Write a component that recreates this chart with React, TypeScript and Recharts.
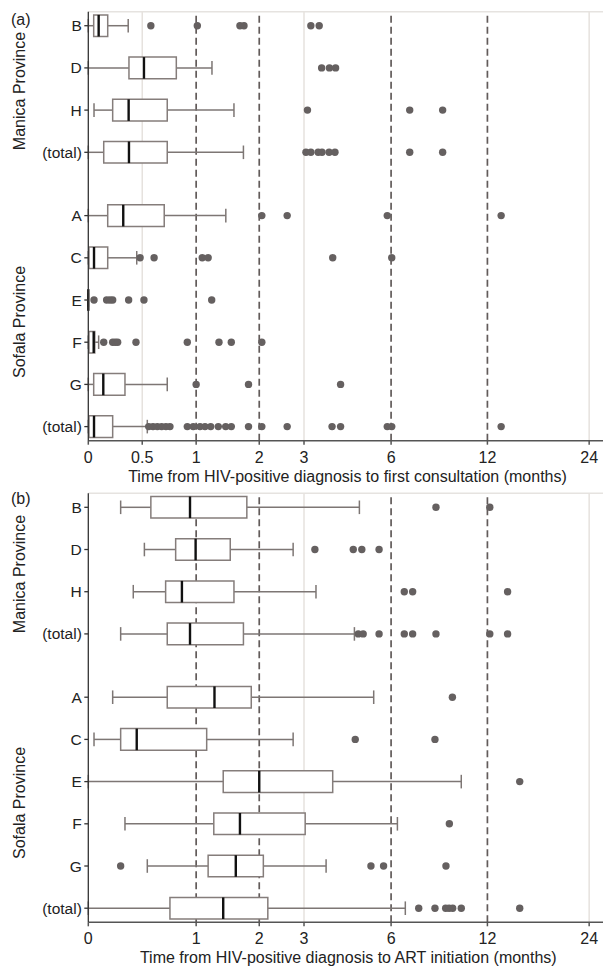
import React from 'react';
import { ComposedChart, XAxis, YAxis, Scatter, ReferenceArea, ReferenceLine } from 'recharts';

// ---------- data ----------
const rowLabels = ['B', 'D', 'H', '(total)', 'A', 'C', 'E', 'F', 'G', '(total)'];
const rowProvince = [0, 0, 0, 0, 1, 1, 1, 1, 1, 1];
const provinceLabels = ['Manica Province', 'Sofala Province'];

const ticksA = [0, 0.5, 1, 2, 3, 6, 12, 24];
const ticksB = [0, 1, 2, 3, 6, 12, 24];
const dashedMonths = [1, 2, 6, 12];
const lightMonthsA = [0.5, 3, 24];
const lightMonthsB = [3, 24];

const titleA = 'Time from HIV-positive diagnosis to first consultation (months)';
const titleB = 'Time from HIV-positive diagnosis to ART initiation (months)';

// panel (a): diagnosis -> first consultation
const consultLow = [0, 0, 0.053, 0, 0, 0, 0, 0, 0, 0];
const consultQ1 = [0.05, 0.377, 0.226, 0.143, 0.18, 0.006, 0, 0.006, 0.05, 0.006];
const consultMedian = [0.096, 0.516, 0.374, 0.377, 0.324, 0.053, 0, 0.05, 0.139, 0.053];
const consultQ3 = [0.18, 0.816, 0.732, 0.732, 0.704, 0.18, 0, 0.06, 0.34, 0.226];
const consultHigh = [0.37, 1.214, 1.55, 1.71, 1.42, 0.449, 0, 0.096, 0.732, 0.547];
const consultOutliers = [
  [0.58, 1.015, 1.65, 1.72, 3.18, 3.41],
  [3.48, 3.71, 3.9],
  [3.09, 6.89, 8.75],
  [3.05, 3.18, 3.38, 3.49, 3.7, 3.88, 6.89, 8.75],
  [2.05, 2.59, 5.83, 13.2],
  [0.48, 0.61, 1.08, 1.16, 3.81, 6.03],
  [0.053, 0.17, 0.2, 0.226, 0.374, 0.516, 1.21],
  [0.143, 0.226, 0.25, 0.272, 0.442, 0.918, 1.316, 1.507, 2.05],
  [1.0, 1.8, 4.06],
  [0.56, 0.6, 0.64, 0.68, 0.72, 0.757, 0.918, 0.973, 1.05, 1.117, 1.196, 1.306, 1.418, 1.507, 1.8, 2.05, 2.59, 3.79, 4.06, 5.83, 6.03, 13.2],
];

// panel (b): diagnosis -> ART initiation
const artLow = [0.3, 0.52, 0.417, 0.3, 0.226, 0.053, 0, 0.34, 0.547, 0];
const artQ1 = [0.58, 0.81, 0.717, 0.732, 0.732, 0.3, 1.38, 1.24, 1.16, 0.757];
const artMedian = [0.943, 0.995, 0.868, 0.943, 1.25, 0.449, 2.0, 1.65, 1.58, 1.38];
const artQ3 = [1.77, 1.49, 1.55, 1.71, 1.85, 1.14, 3.81, 3.03, 2.08, 2.17];
const artHigh = [4.71, 2.73, 3.32, 4.53, 5.26, 2.73, 9.99, 6.29, 3.61, 6.67];
const artOutliers = [
  [8.34, 12.2],
  [3.29, 4.49, 4.8, 5.48],
  [6.62, 7.04, 13.8],
  [4.67, 4.85, 5.48, 6.62, 7.04, 8.34, 12.2, 13.8],
  [9.38],
  [4.56, 8.28],
  [15.0],
  [9.18],
  [0.3, 5.15, 5.67, 8.96],
  [7.36, 8.28, 8.94, 9.16, 9.4, 9.99, 15.0],
];

// ---------- scale transform (linear to 1 month, log(1+x) beyond) ----------
const f = (m: number) => (m <= 1 ? m * Math.LN2 : Math.log(1 + m));
const fmtMonth = (m: number) => String(m);

const FONT = '"Liberation Sans", Arial, Helvetica, sans-serif';
const T_MAX = 3.3078;
const Y_MIN = -0.332;
const Y_MAX = 9.834;
const BOX_H = 0.256;
const CAP_H = 0.161;

const rowPos = rowLabels.map((_, i) => i + 0.5 * rowProvince[i]);

type PanelProps = {
  low: number[];
  q1: number[];
  med: number[];
  q3: number[];
  high: number[];
  outliers: number[][];
  ticks: number[];
  light: number[];
  height: number;
  top: number;
};

function Panel({ low, q1, med, q3, high, outliers, ticks, light, height, top }: PanelProps) {
  const tickT = ticks.map(f);
  const pts: { x: number; y: number }[] = [];
  outliers.forEach((arr, i) => arr.forEach((v) => pts.push({ x: f(v), y: rowPos[i] })));
  const xFmt = (v: number) => {
    const k = tickT.findIndex((t) => Math.abs(t - v) < 1e-6);
    return k >= 0 ? fmtMonth(ticks[k]) : '';
  };
  const yFmt = (v: number) => {
    const k = rowPos.findIndex((p) => Math.abs(p - v) < 1e-6);
    return k >= 0 ? rowLabels[k] : '';
  };
  const boxStroke = '#857d7b';
  const whisk = '#7d7674';
  return (
    <ComposedChart
      width={603}
      height={height}
      margin={{ top, right: 0, bottom: 0, left: 0 }}
      style={{ fontFamily: FONT }}
    >
      <XAxis
        type="number"
        dataKey="x"
        domain={[0, T_MAX]}
        allowDataOverflow
        ticks={tickT}
        interval={0}
        tickFormatter={xFmt}
        height={height - top - 429}
        tickSize={4}
        tickMargin={6.5}
        stroke="#555"
        strokeWidth={1.5}
        tick={{ fill: '#222', fontSize: 16, fontFamily: FONT }}
      />
      <YAxis
        type="number"
        dataKey="y"
        domain={[Y_MIN, Y_MAX]}
        reversed
        allowDataOverflow
        ticks={rowPos}
        interval={0}
        tickFormatter={yFmt}
        width={88.3}
        tickSize={4}
        tickMargin={2.5}
        stroke="#333"
        strokeWidth={1.3}
        tick={{ fill: '#222', fontSize: 15.5, fontFamily: FONT }}
      />
      <ReferenceLine y={Y_MIN} stroke="#e6e3e0" strokeWidth={1.5} ifOverflow="visible" zIndex={5} />
      {light.map((m) => (
        <ReferenceLine key={'l' + m} x={f(m)} stroke="#e6e2de" strokeWidth={1.5} zIndex={6} />
      ))}
      {dashedMonths.map((m) => (
        <ReferenceLine key={'d' + m} x={f(m)} stroke="#625b5a" strokeWidth={1.7} strokeDasharray="7 4" zIndex={10} />
      ))}
      {rowPos.map((p, i) => (
        <ReferenceLine
          key={'wl' + i}
          segment={[{ x: f(low[i]), y: p }, { x: f(q1[i]), y: p }]}
          stroke={whisk}
          strokeWidth={1.5}
          zIndex={20}
        />
      ))}
      {rowPos.map((p, i) => (
        <ReferenceLine
          key={'wh' + i}
          segment={[{ x: f(q3[i]), y: p }, { x: f(high[i]), y: p }]}
          stroke={whisk}
          strokeWidth={1.5}
          zIndex={20}
        />
      ))}
      {rowPos.map((p, i) => (
        <ReferenceLine
          key={'cl' + i}
          segment={[{ x: f(low[i]), y: p - CAP_H }, { x: f(low[i]), y: p + CAP_H }]}
          stroke={whisk}
          strokeWidth={1.5}
          zIndex={20}
        />
      ))}
      {rowPos.map((p, i) => (
        <ReferenceLine
          key={'ch' + i}
          segment={[{ x: f(high[i]), y: p - CAP_H }, { x: f(high[i]), y: p + CAP_H }]}
          stroke={whisk}
          strokeWidth={1.5}
          zIndex={20}
        />
      ))}
      {rowPos.map((p, i) =>
        q3[i] > q1[i] ? (
          <ReferenceArea
            key={'b' + i}
            x1={f(q1[i])}
            x2={f(q3[i])}
            y1={p - BOX_H}
            y2={p + BOX_H}
            fill="#ffffff"
            fillOpacity={1}
            stroke={boxStroke}
            strokeWidth={1.5}
            zIndex={30}
          />
        ) : null
      )}
      {rowPos.map((p, i) => (
        <ReferenceLine
          key={'m' + i}
          segment={[{ x: f(med[i]), y: p - BOX_H }, { x: f(med[i]), y: p + BOX_H }]}
          stroke="#111"
          strokeWidth={2.4}
          zIndex={40}
        />
      ))}
      <Scatter
        data={pts}
        isAnimationActive={false}
        shape={(props: any) => <circle cx={props.cx} cy={props.cy} r={3.7} fill="#656060" />}
      />
    </ComposedChart>
  );
}

const textStyle: React.CSSProperties = {
  position: 'absolute',
  fontFamily: FONT,
  fontSize: 16,
  lineHeight: '16px',
  color: '#222',
  whiteSpace: 'nowrap',
};

function Rotated({ text, cy }: { text: string; cy: number }) {
  return (
    <div
      style={{
        ...textStyle,
        left: 20,
        top: cy,
        transform: 'translate(-50%, -50%) rotate(-90deg)',
      }}
    >
      {text}
    </div>
  );
}

export default function App() {
  return (
    <div style={{ position: 'absolute', left: 0, top: 0, width: 603, height: 969, background: '#fff' }}>
      <div style={{ position: 'absolute', left: 0, top: 0 }}>
        <Panel
          low={consultLow}
          q1={consultQ1}
          med={consultMedian}
          q3={consultQ3}
          high={consultHigh}
          outliers={consultOutliers}
          ticks={ticksA}
          light={lightMonthsA}
          height={487}
          top={11.7}
        />
      </div>
      <div style={{ position: 'absolute', left: 0, top: 487 }}>
        <Panel
          low={artLow}
          q1={artQ1}
          med={artMedian}
          q3={artQ3}
          high={artHigh}
          outliers={artOutliers}
          ticks={ticksB}
          light={lightMonthsB}
          height={482}
          top={6.3}
        />
      </div>
      <div style={{ ...textStyle, left: 11, top: 11.5 }}>(a)</div>
      <div style={{ ...textStyle, left: 11, top: 491 }}>(b)</div>
      <Rotated text={provinceLabels[0]} cy={91} />
      <Rotated text={provinceLabels[1]} cy={321.5} />
      <Rotated text={provinceLabels[0]} cy={574} />
      <Rotated text={provinceLabels[1]} cy={803} />
      <div style={{ ...textStyle, left: 347.5, top: 469, transform: 'translateX(-50%)' }}>{titleA}</div>
      <div style={{ ...textStyle, left: 348.3, top: 950.3, transform: 'translateX(-50%)' }}>{titleB}</div>
    </div>
  );
}
